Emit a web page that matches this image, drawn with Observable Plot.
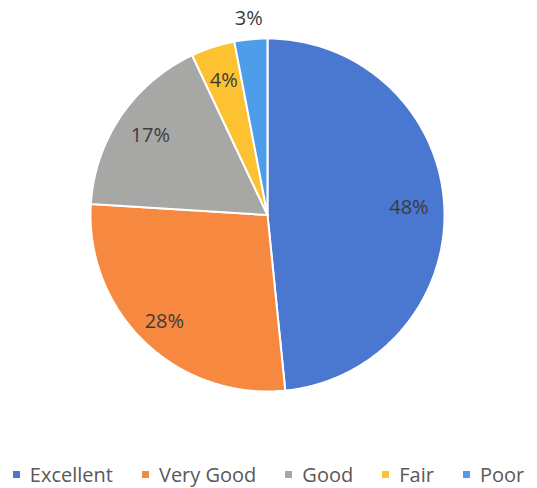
<!DOCTYPE html>
<html>
<head>
<meta charset="utf-8">
<script src="https://cdn.jsdelivr.net/npm/d3@7"></script>
<script src="https://cdn.jsdelivr.net/npm/@observablehq/plot@0.6"></script>
<style>
  html, body { margin: 0; padding: 0; background: #ffffff; }
  #chart { width: 537px; height: 488px; position: relative; overflow: hidden; }
  .legend { display: flex; justify-content: center; align-items: center; height: 38px; padding-top: 11px; box-sizing: border-box;
            font-family: "Open Sans", sans-serif; font-size: 20px; color: #595959; white-space: nowrap; }
  .legend .item { display: flex; align-items: center; margin: 0 14.5px; }
  .legend .sw { width: 7px; height: 7px; margin-right: 10px; }
</style>
</head>
<body>
<div id="chart"></div>
<script>
const categories = ["Excellent", "Very Good", "Good", "Fair", "Poor"];
const values = [48.4, 27.6, 17, 4, 3];
const labels = ["48%", "28%", "17%", "4%", "3%"];
const colors = ["#4a77cf", "#f6883f", "#a7a7a5", "#fcc232", "#4e9de8"];

const table = categories.map((name, i) => ({name, value: values[i], label: labels[i]}));
const arcs = d3.pie().sort(null).value(d => d.value)(table);

// polygon points for each slice (center -> arc -> center)
const poly = [];
for (const a of arcs) {
  const n = Math.max(2, Math.ceil((a.endAngle - a.startAngle) / (Math.PI / 180)));
  poly.push({name: a.data.name, x: 0, y: 0});
  for (let k = 0; k <= n; k++) {
    const t = a.startAngle + (a.endAngle - a.startAngle) * k / n;
    poly.push({name: a.data.name, x: Math.sin(t), y: Math.cos(t)});
  }
  poly.push({name: a.data.name, x: 0, y: 0});
}

const labelPts = arcs.map(a => {
  const m = (a.startAngle + a.endAngle) / 2;
  const r = a.data.value < 3.5 ? 1.12 : (a.data.value > 20 && a.data.value < 40 ? 0.84 : 0.8);
  return {label: a.data.label, x: r * Math.sin(m), y: r * Math.cos(m)};
});

const chart = Plot.plot({
  width: 537,
  height: 450,
  marginTop: 0, marginRight: 0, marginBottom: 0, marginLeft: 0,
  x: {domain: [-1, 1], range: [90, 444], axis: null},
  y: {domain: [-1, 1], range: [391, 38], axis: null},
  color: {domain: categories, range: colors},
  style: {background: "transparent", overflow: "visible"},
  marks: [
    Plot.line(poly, {x: "x", y: "y", z: "name", fill: "name", stroke: "white", strokeWidth: 2, strokeLinejoin: "round"}),
    Plot.text(labelPts, {x: "x", y: "y", text: "label", fill: "#3c3c3c", fontSize: 20, fontFamily: "Open Sans, sans-serif"})
  ]
});

const root = document.getElementById("chart");
root.appendChild(chart);

const legend = document.createElement("div");
legend.className = "legend";
categories.forEach((c, i) => {
  const item = document.createElement("div");
  item.className = "item";
  const sw = document.createElement("span");
  sw.className = "sw";
  sw.style.background = colors[i];
  const tx = document.createElement("span");
  tx.textContent = c;
  item.appendChild(sw);
  item.appendChild(tx);
  legend.appendChild(item);
});
root.appendChild(legend);
</script>
</body>
</html>
